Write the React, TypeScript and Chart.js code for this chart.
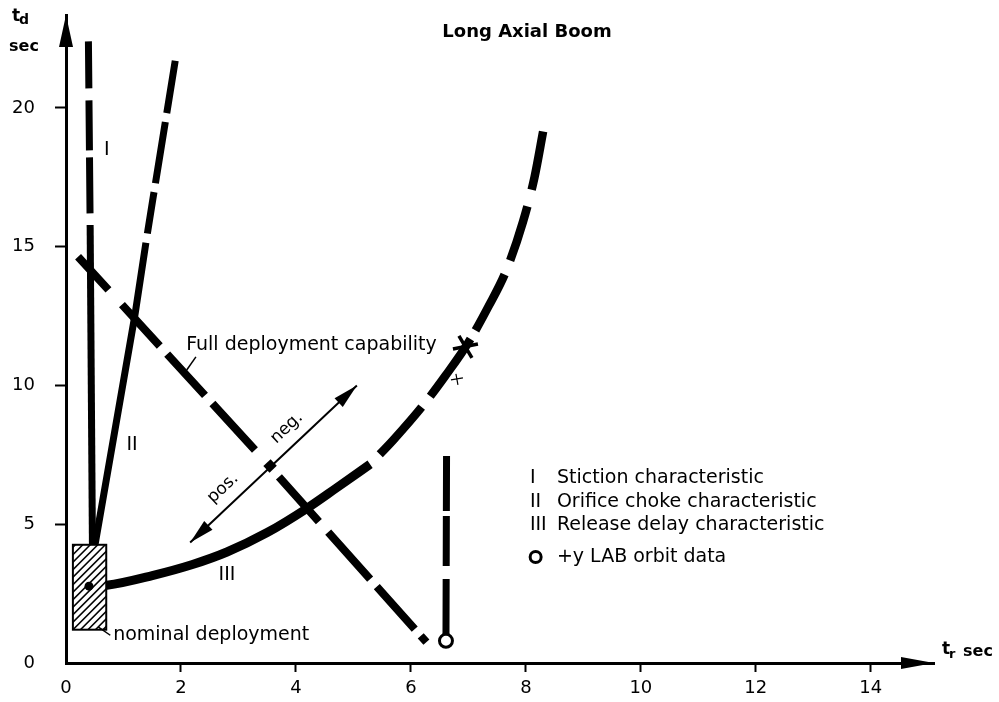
import React, { useEffect, useRef } from "react";
import { Chart, registerables } from "chart.js";

Chart.register(...registerables);

// ---- axes ----
const xMin = 0;
const xMax = 15.1;
const yMin = 0;
const yMax = 23.35;
const xTickStep = 2;
const yTickStep = 5;

// ---- I: Stiction characteristic (top -> bottom) ----
const stictionDashX = [0.39, 0.42];
const stictionDashY = [22.4, 15.78];
const stictionSolidX = [0.42, 0.46];
const stictionSolidY = [15.78, 4.2];

// ---- II: Orifice choke characteristic (top -> bottom) ----
const orificeDashX = [1.9, 1.51, 1.39];
const orificeDashY = [21.7, 16.7, 15.14];
const orificeSolidX = [1.39, 1.2, 0.5];
const orificeSolidY = [15.14, 12.55, 4.2];

// ---- III: Release delay characteristic ----
const releaseSolidX = [0.4, 0.71, 1.5, 2.2, 2.8, 3.5, 4.19, 4.7, 5.29];
const releaseSolidY = [2.77, 2.8, 3.15, 3.55, 4.0, 4.7, 5.57, 6.3, 7.16];
const releaseDashX = [5.29, 5.7, 6.2, 6.6, 7.0, 7.35, 7.65, 7.95, 8.15, 8.3];
const releaseDashY = [7.16, 8.05, 9.25, 10.35, 11.55, 12.85, 14.1, 15.9, 17.5, 19.15];

// ---- Full deployment capability ----
const fullDeployX = [0.21, 3.32, 6.27];
const fullDeployY = [14.64, 7.6, 0.75];

// ---- +y LAB orbit data ----
const labLineX = [6.62, 6.61];
const labLineY = [7.46, 0.8];
const labPointX = [6.61];
const labPointY = [0.8];

// ---- nominal deployment box ----
const nominalBoxX = [0.12, 0.7];
const nominalBoxY = [1.2, 4.26];
const nominalDot = [0.4, 2.77];

// ---- pos./neg. double arrow ----
const arrowFrom = [2.16, 4.34];
const arrowTo = [5.06, 10.0];
const arrowMid = [3.55, 7.1];

// ---- cross mark on curve III ----
const crossMark = [6.94, 11.39];

// ---- legend ----
const legendNumerals = ["I", "II", "III"];
const legendTexts = [
  "Stiction characteristic",
  "Orifice choke characteristic",
  "Release delay characteristic",
];
const legendRowsY = [6.67, 5.8, 4.97];
const legendOrbitY = 3.82;
const legendOrbitText = "+y LAB orbit data";
const legendNumeralX = 8.07;
const legendTextX = 8.54;
const legendCircleX = 8.17;

const FONT = "'DejaVu Sans', 'Liberation Sans', sans-serif";

const pts = (xs: number[], ys: number[]) => xs.map((v, i) => ({ x: v, y: ys[i] }));

const annotations = {
  id: "annotations",
  afterDatasetsDraw(chart: any) {
    const { ctx, chartArea } = chart;
    const xs = chart.scales.x;
    const ys = chart.scales.y;
    const px = (v: number) => xs.getPixelForValue(v);
    const py = (v: number) => ys.getPixelForValue(v);
    ctx.save();
    ctx.fillStyle = "#000";
    ctx.strokeStyle = "#000";

    // axis arrowheads
    const L = chartArea.left;
    const B = chartArea.bottom;
    ctx.beginPath();
    ctx.moveTo(L, chartArea.top);
    ctx.lineTo(L - 7, chartArea.top + 32);
    ctx.lineTo(L + 7, chartArea.top + 32);
    ctx.closePath();
    ctx.fill();
    ctx.beginPath();
    ctx.moveTo(chartArea.right, B);
    ctx.lineTo(chartArea.right - 33, B - 6);
    ctx.lineTo(chartArea.right - 33, B + 6);
    ctx.closePath();
    ctx.fill();

    // nominal deployment box
    const bx0 = px(nominalBoxX[0]);
    const bx1 = px(nominalBoxX[1]);
    const by0 = py(nominalBoxY[1]);
    const by1 = py(nominalBoxY[0]);
    ctx.fillStyle = "#fff";
    ctx.fillRect(bx0, by0, bx1 - bx0, by1 - by0);
    ctx.save();
    ctx.beginPath();
    ctx.rect(bx0, by0, bx1 - bx0, by1 - by0);
    ctx.clip();
    ctx.lineWidth = 1.6;
    ctx.strokeStyle = "#000";
    for (let k = -120; k < 200; k += 7.5) {
      ctx.beginPath();
      ctx.moveTo(bx0 + k, by1);
      ctx.lineTo(bx0 + k + (by1 - by0), by0);
      ctx.stroke();
    }
    ctx.restore();
    ctx.lineWidth = 2;
    ctx.strokeStyle = "#000";
    ctx.strokeRect(bx0, by0, bx1 - bx0, by1 - by0);
    ctx.fillStyle = "#000";
    ctx.beginPath();
    ctx.arc(px(nominalDot[0]), py(nominalDot[1]), 4.5, 0, Math.PI * 2);
    ctx.fill();

    // leader for nominal deployment
    ctx.lineWidth = 1.5;
    ctx.beginPath();
    ctx.moveTo(px(0.56), py(1.3));
    ctx.lineTo(px(0.77), py(1.0));
    ctx.stroke();

    // leader for full deployment label
    ctx.beginPath();
    ctx.moveTo(px(2.26), py(11.03));
    ctx.lineTo(px(2.1), py(10.56));
    ctx.stroke();

    // double arrow pos./neg.
    const ax0 = px(arrowFrom[0]);
    const ay0 = py(arrowFrom[1]);
    const ax1 = px(arrowTo[0]);
    const ay1 = py(arrowTo[1]);
    const ang = Math.atan2(ay1 - ay0, ax1 - ax0);
    ctx.lineWidth = 2;
    ctx.beginPath();
    ctx.moveTo(ax0, ay0);
    ctx.lineTo(ax1, ay1);
    ctx.stroke();
    const head = (tx: number, ty: number, a: number) => {
      ctx.save();
      ctx.translate(tx, ty);
      ctx.rotate(a);
      ctx.beginPath();
      ctx.moveTo(0, 0);
      ctx.lineTo(-25, -6);
      ctx.lineTo(-25, 6);
      ctx.closePath();
      ctx.fill();
      ctx.restore();
    };
    head(ax1, ay1, ang);
    head(ax0, ay0, ang + Math.PI);
    ctx.save();
    ctx.translate(px(arrowMid[0]), py(arrowMid[1]));
    ctx.rotate(ang);
    ctx.fillRect(-5, -4.5, 10, 9);
    ctx.restore();

    // cross mark on curve III
    const cx = px(crossMark[0]);
    const cy = py(crossMark[1]);
    ctx.lineWidth = 3.5;
    ctx.beginPath();
    ctx.moveTo(cx - 12, cy + 2);
    ctx.lineTo(cx + 13, cy - 3);
    ctx.moveTo(cx - 6, cy - 11);
    ctx.lineTo(cx + 7, cy + 11);
    ctx.stroke();
    // small tick mark below it
    ctx.lineWidth = 1.2;
    ctx.beginPath();
    ctx.moveTo(cx - 14, cy + 33);
    ctx.lineTo(cx - 2, cy + 31);
    ctx.moveTo(cx - 9, cy + 27);
    ctx.lineTo(cx - 7, cy + 38);
    ctx.stroke();

    // texts
    ctx.fillStyle = "#000";
    ctx.textBaseline = "middle";
    ctx.textAlign = "left";
    ctx.font = `19px ${FONT}`;
    ctx.fillText("Full deployment capability", px(2.09), py(11.46));
    ctx.fillText("nominal deployment", px(0.82), py(1.0));
    ctx.textAlign = "center";
    ctx.fillText("I", px(0.71), py(18.49));
    ctx.fillText("II", px(1.15), py(7.86));
    ctx.fillText("III", px(2.8), py(3.17));

    // pos./neg. rotated
    ctx.font = `17px ${FONT}`;
    ctx.save();
    ctx.translate(px(3.84), py(8.47));
    ctx.rotate(ang);
    ctx.fillText("neg.", 0, 0);
    ctx.restore();
    ctx.save();
    ctx.translate(px(2.73), py(6.3));
    ctx.rotate(ang);
    ctx.fillText("pos.", 0, 0);
    ctx.restore();

    // legend
    ctx.font = `19px ${FONT}`;
    ctx.textAlign = "left";
    legendNumerals.forEach((n, i) => {
      ctx.fillText(n, px(legendNumeralX), py(legendRowsY[i]));
      ctx.fillText(legendTexts[i], px(legendTextX), py(legendRowsY[i]));
    });
    ctx.lineWidth = 3;
    ctx.beginPath();
    ctx.arc(px(legendCircleX), py(legendOrbitY), 5.5, 0, Math.PI * 2);
    ctx.stroke();
    ctx.fillText(legendOrbitText, px(legendTextX), py(legendOrbitY));

    // title
    ctx.font = `bold 18px ${FONT}`;
    ctx.textAlign = "center";
    ctx.fillText("Long Axial Boom", 527, 32);

    // axis titles
    ctx.textAlign = "left";
    ctx.font = `bold 17px ${FONT}`;
    ctx.fillText("t", 12, 17);
    ctx.font = `bold 14px ${FONT}`;
    ctx.fillText("d", 19, 20);
    ctx.font = `bold 16px ${FONT}`;
    ctx.fillText("sec", 9, 47);

    ctx.font = `bold 17px ${FONT}`;
    ctx.fillText("t", 942, 650);
    ctx.font = `bold 13px ${FONT}`;
    ctx.fillText("r", 949, 655);
    ctx.font = `bold 16px ${FONT}`;
    ctx.fillText("sec", 963, 652);

    ctx.restore();
  },
};

export default function App() {
  const ref = useRef<HTMLCanvasElement>(null);

  useEffect(() => {
    const canvas = ref.current;
    if (!canvas) return;
    const base: any = {
      showLine: true,
      pointRadius: 0,
      borderColor: "#000",
      backgroundColor: "#000",
      fill: false,
      clip: false,
      borderCapStyle: "butt",
      borderJoinStyle: "round",
    };
    const datasets: any[] = [
      {
        ...base,
        label: "+y LAB orbit data",
        data: pts(labPointX, labPointY),
        showLine: false,
        pointRadius: 6.5,
        pointBorderWidth: 3,
        pointBackgroundColor: "#fff",
        pointBorderColor: "#000",
      },
      { ...base, label: "LAB line", data: pts(labLineX, labLineY), borderWidth: 7, borderDash: [55, 5, 50, 13, 80, 20] },
      {
        ...base,
        label: "I dashed",
        data: pts(stictionDashX, stictionDashY),
        borderWidth: 7,
        borderDash: [47, 12, 50, 7, 56, 40],
      },
      { ...base, label: "I", data: pts(stictionSolidX, stictionSolidY), borderWidth: 7 },
      {
        ...base,
        label: "II dashed",
        data: pts(orificeDashX, orificeDashY),
        borderWidth: 7,
        borderDash: [53, 9, 62, 9, 42, 40],
      },
      { ...base, label: "II", data: pts(orificeSolidX, orificeSolidY), borderWidth: 7 },
      {
        ...base,
        label: "III",
        data: pts(releaseSolidX, releaseSolidY),
        borderWidth: 9,
        cubicInterpolationMode: "monotone",
      },
      {
        ...base,
        label: "III dashed",
        data: pts(releaseDashX, releaseDashY),
        borderWidth: 8.5,
        cubicInterpolationMode: "monotone",
        borderDash: [0, 14, 63, 14, 70, 10, 63, 15, 57, 17, 70, 40],
      },
      {
        ...base,
        label: "Full deployment capability",
        data: pts(fullDeployX, fullDeployY),
        borderWidth: 8,
        borderDash: [45, 20, 56, 11, 56, 11, 63, 36, 60, 14, 63, 10, 57, 9, 30, 40],
      },
    ];

    const tickColor = (c: any) => (c.tick && c.tick.value === 0 ? "rgba(0,0,0,0)" : "#000");

    const chart = new Chart(canvas, {
      type: "scatter",
      data: { datasets },
      options: {
        responsive: false,
        animation: false,
        events: [],
        layout: { padding: { top: 15, right: 65, left: 0, bottom: 0 } },
        plugins: { legend: { display: false }, tooltip: { enabled: false }, title: { display: false } },
        scales: {
          x: {
            type: "linear",
            min: xMin,
            max: xMax,
            afterFit: (s: any) => {
              s.height = 39;
              s.paddingLeft = 0;
              s.paddingRight = 0;
              s.paddingTop = 0;
              s.paddingBottom = 0;
            },
            ticks: {
              stepSize: xTickStep,
              includeBounds: false,
              color: "#000",
              padding: 6,
              maxRotation: 0,
              font: { family: FONT, size: 18 },
            },
            grid: {
              drawOnChartArea: false,
              drawTicks: true,
              tickLength: 9,
              tickWidth: 2,
              tickColor,
            },
            border: { display: true, color: "#000", width: 3 },
          },
          y: {
            type: "linear",
            min: yMin,
            max: yMax,
            afterFit: (s: any) => {
              s.width = 66;
              s.paddingLeft = 0;
              s.paddingRight = 0;
              s.paddingTop = 0;
              s.paddingBottom = 0;
            },
            ticks: {
              stepSize: yTickStep,
              includeBounds: false,
              color: "#000",
              padding: 20,
              font: { family: FONT, size: 18 },
            },
            grid: {
              drawOnChartArea: false,
              drawTicks: true,
              tickLength: 11,
              tickWidth: 2,
              tickColor,
            },
            border: { display: true, color: "#000", width: 3 },
          },
        },
      } as any,
      plugins: [annotations],
    });
    return () => chart.destroy();
  }, []);

  return (
    <div style={{ position: "absolute", left: 0, top: 0, width: 999, height: 702, background: "#fff" }}>
      <canvas ref={ref} width={999} height={702} style={{ display: "block" }} />
    </div>
  );
}
